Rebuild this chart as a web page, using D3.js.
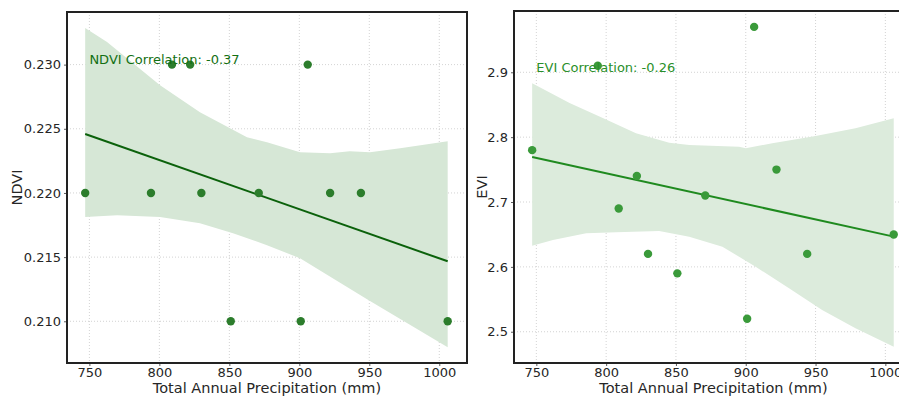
<!DOCTYPE html>
<html>
<head>
<meta charset="utf-8">
<script src="https://cdn.jsdelivr.net/npm/d3@7"></script>
<style>
  html, body { margin: 0; padding: 0; background: #fff; }
  svg { display: block; font-family: "DejaVu Sans", sans-serif; }
</style>
</head>
<body>
<svg id="chart" width="899" height="397"></svg>
<script>
// ---- data ----
const precipitation = [747, 794, 809, 822, 830, 851, 871, 901, 906, 922, 944, 1006];
const ndvi = [0.22, 0.22, 0.23, 0.23, 0.22, 0.21, 0.22, 0.21, 0.23, 0.22, 0.22, 0.21];
const evi = [2.78, 2.91, 2.69, 2.74, 2.62, 2.59, 2.71, 2.52, 2.97, 2.75, 2.62, 2.65];
const correlations = { NDVI: "-0.37", EVI: "-0.26" };

// confidence bands (bootstrap)
const ndviBandUpperX = [747, 762.6, 800.5, 829, 850.5, 862.6, 876.9, 900.5, 922, 936, 950.5, 972, 1006];
const ndviBandUpper = [0.23285, 0.23176, 0.22839, 0.22629, 0.22504, 0.22434, 0.22395, 0.22317, 0.22309, 0.22325, 0.22317, 0.22348, 0.22403];
const ndviBandLowerX = [747, 769.8, 800.5, 829, 852.6, 876.9, 900.5, 948.4, 1006];
const ndviBandLower = [0.21813, 0.21826, 0.21813, 0.21764, 0.21686, 0.21593, 0.21491, 0.21172, 0.20798];

const eviBandUpperX = [747, 773.8, 797.6, 821.4, 845.2, 859.5, 895.2, 900, 919, 950, 978.6, 1006];
const eviBandUpper = [2.883, 2.8527, 2.8295, 2.806, 2.7914, 2.7879, 2.7853, 2.7828, 2.7905, 2.8018, 2.8137, 2.829];
const eviBandLowerX = [747, 761.9, 785.7, 807.1, 838, 859.5, 883.3, 907.1, 931, 954.7, 978.6, 1006];
const eviBandLower = [2.6326, 2.6414, 2.6517, 2.6533, 2.6553, 2.6465, 2.6311, 2.6002, 2.5669, 2.5335, 2.5052, 2.4769];

const xTicks = [750, 800, 850, 900, 950, 1000];
const ndviTicks = [0.210, 0.215, 0.220, 0.225, 0.230];
const eviTicks = [2.5, 2.6, 2.7, 2.8, 2.9];

const xLabel = "Total Annual Precipitation (mm)";

// ---- helpers ----
function linreg(xs, ys) {
  const n = xs.length;
  const mx = d3.mean(xs), my = d3.mean(ys);
  let sxy = 0, sxx = 0;
  for (let i = 0; i < n; i++) {
    sxy += (xs[i] - mx) * (ys[i] - my);
    sxx += (xs[i] - mx) ** 2;
  }
  const slope = sxy / sxx;
  return { slope, intercept: my - slope * mx };
}

const svg = d3.select("#chart");

function panel(opts) {
  const g = svg.append("g");
  const x = d3.scaleLinear().domain([734, 1019.8]).range([opts.left, opts.right]);
  const y = d3.scaleLinear().domain(opts.yDomain).range([363, opts.top]);

  const clipId = "clip" + opts.id;
  svg.append("clipPath").attr("id", clipId).append("rect")
    .attr("x", opts.left).attr("y", opts.top)
    .attr("width", opts.right - opts.left).attr("height", 363 - opts.top);

  // grid
  const grid = g.append("g").attr("clip-path", `url(#${clipId})`);
  grid.selectAll("line.gx").data(xTicks).join("line")
    .attr("x1", d => x(d)).attr("x2", d => x(d))
    .attr("y1", opts.top).attr("y2", 363)
    .attr("stroke", "#c8c8c8").attr("stroke-width", 0.8).attr("stroke-dasharray", "1,2");
  grid.selectAll("line.gy").data(opts.yTicks).join("line")
    .attr("y1", d => y(d)).attr("y2", d => y(d))
    .attr("x1", opts.left).attr("x2", opts.right)
    .attr("stroke", "#c8c8c8").attr("stroke-width", 0.8).attr("stroke-dasharray", "1,2");

  const plot = g.append("g").attr("clip-path", `url(#${clipId})`);

  // band polygon
  const upperPts = opts.upX.map((v, i) => [v, opts.up[i]]);
  const lowerPts = opts.loX.map((v, i) => [v, opts.lo[i]]).reverse();
  const poly = upperPts.concat(lowerPts);
  plot.append("path")
    .attr("d", d3.line().x(d => x(d[0])).y(d => y(d[1]))(poly) + "Z")
    .attr("fill", opts.bandColor);

  // regression line
  const reg = linreg(precipitation, opts.values);
  const ext = d3.extent(precipitation);
  plot.append("path")
    .attr("d", d3.line().x(d => x(d)).y(d => y(reg.intercept + reg.slope * d))(ext))
    .attr("fill", "none").attr("stroke", opts.lineColor).attr("stroke-width", 2);

  // points
  plot.selectAll("circle").data(precipitation).join("circle")
    .attr("cx", d => x(d)).attr("cy", (d, i) => y(opts.values[i]))
    .attr("r", 4.2).attr("fill", opts.pointColor);

  // annotation
  g.append("text")
    .attr("x", x(opts.textX)).attr("y", y(opts.textY))
    .attr("dy", "0.35em")
    .attr("font-size", 13).attr("fill", opts.textColor)
    .text(`${opts.name} Correlation: ${correlations[opts.name]}`);

  // axes
  const xAxis = g.append("g").attr("transform", "translate(0,363)")
    .call(d3.axisBottom(x).tickValues(xTicks).tickSize(3).tickPadding(2).tickFormat(d3.format("d")));
  const yAxis = g.append("g").attr("transform", `translate(${opts.left},0)`)
    .call(d3.axisLeft(y).tickValues(opts.yTicks).tickSize(3).tickPadding(3).tickFormat(d3.format(opts.yFormat)));
  [xAxis, yAxis].forEach(a => {
    a.select(".domain").remove();
    a.selectAll(".tick line").attr("stroke", "#333").attr("stroke-width", 0.8);
    a.selectAll(".tick text").attr("font-size", 13).attr("fill", "#262626")
      .attr("font-family", "DejaVu Sans, sans-serif");
  });

  // spines
  g.append("rect")
    .attr("x", opts.left).attr("y", opts.top)
    .attr("width", opts.right - opts.left).attr("height", 363 - opts.top)
    .attr("fill", "none").attr("stroke", "#222").attr("stroke-width", 2);

  // axis labels
  g.append("text")
    .attr("x", (opts.left + opts.right) / 2).attr("y", 393)
    .attr("text-anchor", "middle").attr("font-size", 14.5).attr("fill", "#262626")
    .text(xLabel);
  g.append("text")
    .attr("transform", `translate(${opts.yLabelX},${(opts.top + 363) / 2}) rotate(-90)`)
    .attr("text-anchor", "middle").attr("font-size", 14.5).attr("fill", "#262626")
    .text(opts.name);
}

panel({
  id: "ndvi", name: "NDVI", values: ndvi,
  left: 67, right: 467, top: 12,
  yDomain: [0.20675, 0.2341], yTicks: ndviTicks, yFormat: ".3f",
  upX: ndviBandUpperX, up: ndviBandUpper, loX: ndviBandLowerX, lo: ndviBandLower,
  bandColor: "#d6e7d6", lineColor: "#0b610b", pointColor: "#2c7d2c", textColor: "#137013",
  textX: 750, textY: 0.2304, yLabelX: 22
});

panel({
  id: "evi", name: "EVI", values: evi,
  left: 514, right: 913, top: 11,
  yDomain: [2.4518, 2.9945], yTicks: eviTicks, yFormat: ".1f",
  upX: eviBandUpperX, up: eviBandUpper, loX: eviBandLowerX, lo: eviBandLower,
  bandColor: "#dcebdc", lineColor: "#1f8a1f", pointColor: "#3a9a3a", textColor: "#2a8f2a",
  textX: 750, textY: 2.907, yLabelX: 487
});
</script>
</body>
</html>
